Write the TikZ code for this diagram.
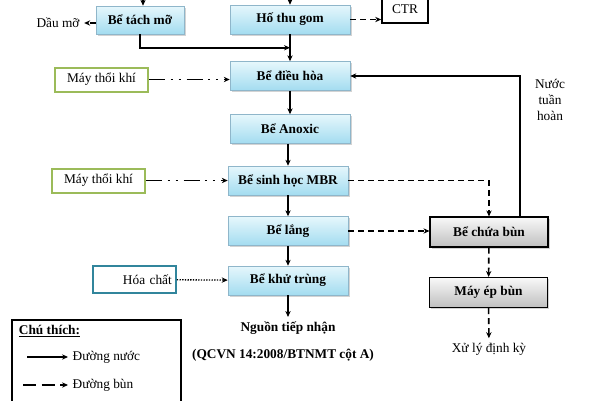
\documentclass[tikz,border=0pt]{standalone}
\usepackage{fontspec}
\setmainfont{Liberation Serif}
\usepackage{tikz}
\usetikzlibrary{arrows.meta, positioning, calc, shadows}
\definecolor{tanktop}{HTML}{E6F7FC}
\definecolor{tankbot}{HTML}{A3DCF0}
\definecolor{tankline}{HTML}{8FB6CA}
\definecolor{olive}{HTML}{9BBB59}
\definecolor{teal}{HTML}{31859C}
\tikzstyle{tank} = [rectangle, minimum width=90pt, minimum height=21.75pt, inner sep=0pt, text centered, draw=tankline, top color=tanktop, bottom color=tankbot, drop shadow={shadow xshift=1.2pt, shadow yshift=-1.2pt, opacity=0.35}, font=\bfseries]
\tikzstyle{sludgebox} = [rectangle, minimum width=88.5pt, minimum height=22.5pt, inner sep=0pt, text centered, draw=black, thick, top color=gray!5, bottom color=gray!50, drop shadow={shadow xshift=1.2pt, shadow yshift=-1.2pt, opacity=0.35}, font=\bfseries]
\tikzstyle{blower} = [rectangle, minimum width=70pt, minimum height=18pt, inner sep=0pt, text centered, draw=olive, line width=1.5pt, fill=white]
\tikzstyle{chembox} = [rectangle, minimum width=62pt, minimum height=20pt, inner sep=0pt, text width=56pt, align=right, draw=teal, line width=1.5pt, fill=white]
\tikzstyle{plainbox} = [rectangle, minimum width=34.5pt, minimum height=21pt, inner sep=0pt, text centered, draw=black, line width=1.2pt]
\tikzstyle{legendbox} = [rectangle, minimum width=126.75pt, minimum height=67.5pt, draw=black, line width=1pt]
\tikzstyle{arrow} = [line width=1.2pt, -{Stealth[length=4.5pt,width=4pt]}]
\tikzstyle{sludge} = [arrow, dash pattern=on 4.5pt off 3pt]
\tikzstyle{air} = [arrow, dash pattern=on 12pt off 4pt on 1.5pt off 4.5pt on 1.5pt off 4.5pt]
\tikzstyle{chem} = [line width=1pt, dash pattern=on 1pt off 1pt, -{Stealth[length=4.5pt,width=4pt]}]

\begin{document}
\begin{tikzpicture}[x=0.75pt, y=-0.75pt]
        \useasboundingbox (0,0) rectangle (589,400);

        \node (thugom) [tank] at (290,19.5) {Hố thu gom};
        \node (tachmo) [tank, minimum width=66pt, minimum height=21pt] at (140,20) {Bể tách mỡ};
        \node (ctr) [plainbox] at (405,9) {CTR};
        \node (daumo) at (58,23) {Dầu mỡ};
        \node (dieuhoa) [tank] at (290,76) {Bể điều hòa};
        \node (anoxic) [tank] at (290,129) {Bể Anoxic};
        \node (mbr) [tank] at (288,180.5) {Bể sinh học MBR};
        \node (lang) [tank] at (288,231) {Bể lắng};
        \node (khutrung) [tank] at (288,280.5) {Bể khử trùng};
        \node (nguon) [font=\bfseries] at (288,328) {Nguồn tiếp nhận};
        \node (qcvn) [font=\bfseries] at (283,355) {(QCVN 14:2008/BTNMT cột A)};

        \node (may1) [blower] at (101.5,79.5) {Máy thổi khí};
        \node (may2) [blower] at (98.5,180.5) {Máy thổi khí};
        \node (hoachat) [chembox] at (134.5,279.5) {Hóa chất};

        \node (chuabun) [sludgebox] at (489,232) {Bể chứa bùn};
        \node (epbun) [sludgebox] at (488.5,292.5) {Máy ép bùn};
        \node (xuly) at (489,349) {Xử lý định kỳ};
        \node (tuanhoan) [align=center] at (550,100) {Nước\\tuần\\hoàn};

        \coordinate (intachmo) at (143,-10);
        \coordinate (inthugom) at (290,-10);
        \coordinate (nhap) at ($(thugom.south)!0.5!(dieuhoa.north)$);
        \coordinate (goc) at (520,80);

        \draw [arrow] (intachmo) -- (intachmo |- tachmo.north);
        \draw [arrow] (inthugom) -- (thugom);
        \draw [sludge] (tachmo.west |- daumo) -- (daumo);
        \draw [sludge] (thugom.east) -- (thugom.east -| ctr.west);
        \draw [arrow] (tachmo.south) |- (nhap);
        \draw [arrow] (thugom) -- (dieuhoa);
        \draw [arrow] (dieuhoa) -- (anoxic);
        \draw [arrow] (anoxic.south -| mbr) -- (mbr);
        \draw [arrow] (mbr) -- (lang);
        \draw [arrow] (lang) -- (khutrung);
        \draw [arrow] (khutrung) -- (nguon);
        \draw [air] (may1.east) -- (may1.east -| dieuhoa.west);
        \draw [air] (may2) -- (mbr);
        \draw [chem] (hoachat) -- (khutrung);
        % bun
        \draw [sludge] (mbr.east) -| (chuabun.north);
        \draw [sludge] (lang.east) -- (lang.east -| chuabun.west);
        \draw [sludge] (chuabun) -- (epbun);
        \draw [sludge] (epbun) -- (xuly);
        % tuan hoan
        \draw [arrow] (chuabun.north -| goc) |- (dieuhoa.east);

        % chu thich
        \node (legend) [legendbox] at (96.5,365) {};
        \node (chuthich) [font=\bfseries] at (49.5,331) {\underline{Chú thích:}};
        \node (lnuoc) [anchor=west] at (68,357) {Đường nước};
        \node (lbun) [anchor=west] at (68,385) {Đường bùn};
        \coordinate (snuoc) at (27,357);
        \coordinate (sbun) at (23,385);
        \draw [arrow] (snuoc) -- (lnuoc.west);
        \draw [arrow, dash pattern=on 10pt off 4pt] (sbun) -- (lbun.west);
    \end{tikzpicture}
\end{document}
